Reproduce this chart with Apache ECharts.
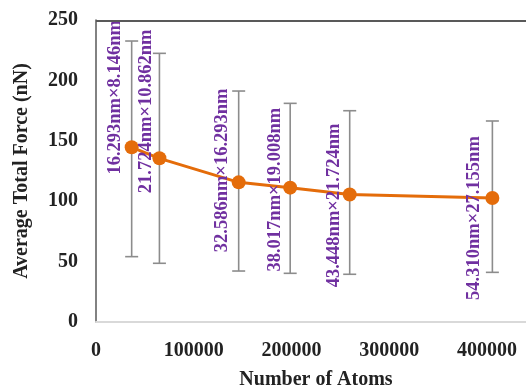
<!DOCTYPE html>
<html>
<head>
<meta charset="utf-8">
<script src="https://cdn.jsdelivr.net/npm/echarts@6/dist/echarts.min.js"></script>
<style>
  html, body { margin: 0; padding: 0; background: #fff; }
  #chart { width: 526px; height: 388px; }
</style>
</head>
<body>
<div id="chart"></div>
<script>
var atoms = [36500, 64900, 146000, 198700, 259600, 405600];
var force = [144.6, 135.5, 115.6, 111.2, 105.6, 102.6];
var forceHigh = [232.6, 222.4, 191.2, 181.0, 174.9, 166.4];
var forceLow = [54.1, 48.6, 42.2, 40.3, 39.5, 41.1];
var sizes = ['16.293nm×8.146nm', '21.724nm×10.862nm', '32.586nm×16.293nm',
             '38.017nm×19.008nm', '43.448nm×21.724nm', '54.310nm×27.155nm'];
var atomsMax = 440000;
var forceMax = 250;

var serif = '"Liberation Serif", "DejaVu Serif", serif';

var forceChart = {
    init: function () {
        var that = this
        that.draw()
    },
    draw: function () {
        var myChart = echarts.init(document.getElementById('chart'));
        // where each size label sits relative to its point (px)
        var labelShift = [[-16, -50], [-13, -47], [-16, -12], [-15, 2], [-15, 11], [-18, 20]];
        var half = 7;

        var lineData = atoms.map(function (a, i) {
            return {
                value: [a, force[i]],
                label: {
                    show: true,
                    formatter: sizes[i],
                    position: [half + labelShift[i][0], half + labelShift[i][1]],
                    rotate: 90,
                    align: 'center',
                    verticalAlign: 'middle',
                    color: '#7030a0',
                    fontFamily: serif,
                    fontWeight: 'bold',
                    fontSize: 18.5
                }
            };
        });
        var barData = atoms.map(function (a, i) {
            return [a, forceLow[i], forceHigh[i]];
        });

        var option = {
            animation: false,
            grid: {
                left: 96, top: 20, right: 0, bottom: 66,
                outerBoundsMode: 'none',
                containLabel: false
            },
            xAxis: {
                type: 'value',
                min: 0, max: atomsMax, interval: 100000,
                name: 'Number of Atoms',
                nameLocation: 'middle',
                nameGap: 48,
                nameTextStyle: {
                    fontFamily: serif, fontWeight: 'bold', fontSize: 20, color: '#222',
                    padding: [0, 0, 0, 10]
                },
                axisLine: { show: true, lineStyle: { color: '#d9d9d9', width: 2 } },
                axisTick: { show: false },
                splitLine: { show: false },
                axisLabel: {
                    margin: 19, showMaxLabel: false,
                    formatter: function (v) { return String(v); },
                    fontFamily: serif, fontWeight: 'bold', fontSize: 20, color: '#222'
                }
            },
            yAxis: {
                type: 'value',
                min: 0, max: forceMax, interval: 50,
                name: 'Average Total Force (nN)',
                nameLocation: 'middle',
                nameGap: 64,
                nameTextStyle: { fontFamily: serif, fontWeight: 'bold', fontSize: 20, color: '#222' },
                axisLine: { show: true, onZero: false, lineStyle: { color: '#595959', width: 1.5 } },
                axisTick: { show: false },
                splitLine: { show: false },
                axisLabel: { margin: 18, fontFamily: serif, fontWeight: 'bold', fontSize: 20, color: '#222' }
            },
            series: [
                {
                    // frame line along the top of the plot
                    name: 'frame',
                    type: 'custom',
                    z: 5,
                    clip: false,
                    silent: true,
                    data: [[0, forceMax]],
                    renderItem: function (params, api) {
                        var a = api.coord([0, api.value(1)]);
                        var b = api.coord([atomsMax, api.value(1)]);
                        return {
                            type: 'line',
                            shape: { x1: a[0], y1: a[1] + 1, x2: b[0], y2: b[1] + 1 },
                            style: { stroke: '#595959', lineWidth: 2 }
                        };
                    }
                },
                {
                    name: 'error',
                    type: 'custom',
                    z: 1,
                    data: barData,
                    renderItem: function (params, api) {
                        var lo = api.coord([api.value(0), api.value(1)]);
                        var hi = api.coord([api.value(0), api.value(2)]);
                        var cap = 6.5;
                        var style = { stroke: '#8c8c8c', lineWidth: 1.6 };
                        return {
                            type: 'group',
                            children: [
                                { type: 'line', shape: { x1: lo[0], y1: lo[1], x2: hi[0], y2: hi[1] }, style: style },
                                { type: 'line', shape: { x1: hi[0] - cap, y1: hi[1], x2: hi[0] + cap, y2: hi[1] }, style: style },
                                { type: 'line', shape: { x1: lo[0] - cap, y1: lo[1], x2: lo[0] + cap, y2: lo[1] }, style: style }
                            ]
                        };
                    }
                },
                {
                    name: 'force',
                    type: 'line',
                    z: 3,
                    data: lineData,
                    symbol: 'circle',
                    symbolSize: 14,
                    lineStyle: { color: '#e46c0a', width: 3 },
                    itemStyle: { color: '#e46c0a' }
                }
            ]
        };
        myChart.setOption(option);
    }
}
forceChart.init();
</script>
</body>
</html>
